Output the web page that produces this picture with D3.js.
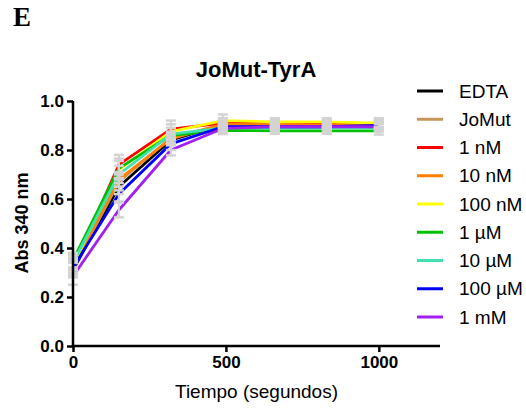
<!DOCTYPE html>
<html>
<head>
<meta charset="utf-8">
<script src="https://cdn.jsdelivr.net/npm/d3@7"></script>
<style>
  html, body { margin: 0; padding: 0; background: #fff; }
  svg { display: block; }
  text { font-family: "Liberation Sans", Arial, Helvetica, sans-serif; fill: #000; }
</style>
</head>
<body>
<svg id="chart" width="526" height="408"></svg>
<script>
// Time points (s)
const times = [0, 150, 320, 490, 660, 830, 1000];

// Series labels and colours
const seriesNames = ["EDTA", "JoMut", "1 nM", "10 nM", "100 nM", "1 \u00B5M", "10 \u00B5M", "100 \u00B5M", "1 mM"];
const seriesColors = ["#000000", "#c8955a", "#ff0000", "#ff8000", "#ffff00", "#00c000", "#40e0b0", "#0000ff", "#a020f0"];

// Absorbance at 340 nm, one array per series
const edta     = [0.310, 0.650, 0.840, 0.905, 0.905, 0.905, 0.905];
const jomut    = [0.315, 0.670, 0.850, 0.905, 0.905, 0.905, 0.905];
const nM1      = [0.320, 0.740, 0.885, 0.910, 0.910, 0.907, 0.905];
const nM10     = [0.320, 0.680, 0.845, 0.905, 0.905, 0.900, 0.905];
const nM100    = [0.330, 0.720, 0.875, 0.920, 0.915, 0.915, 0.910];
const uM1      = [0.350, 0.725, 0.860, 0.880, 0.878, 0.878, 0.878];
const uM10     = [0.340, 0.700, 0.865, 0.890, 0.890, 0.890, 0.890];
const uM100    = [0.320, 0.620, 0.825, 0.895, 0.895, 0.895, 0.900];
const mM1      = [0.285, 0.555, 0.800, 0.888, 0.895, 0.895, 0.895];

// Standard deviations, one array per series
const edtaSd   = [0.030, 0.030, 0.020, 0.015, 0.012, 0.012, 0.015];
const jomutSd  = [0.030, 0.035, 0.025, 0.015, 0.012, 0.012, 0.015];
const nM1Sd    = [0.030, 0.040, 0.035, 0.020, 0.015, 0.015, 0.020];
const nM10Sd   = [0.030, 0.030, 0.025, 0.015, 0.012, 0.012, 0.015];
const nM100Sd  = [0.030, 0.035, 0.030, 0.025, 0.015, 0.015, 0.020];
const uM1Sd    = [0.030, 0.040, 0.030, 0.015, 0.012, 0.012, 0.015];
const uM10Sd   = [0.030, 0.035, 0.025, 0.015, 0.012, 0.012, 0.015];
const uM100Sd  = [0.030, 0.030, 0.025, 0.015, 0.012, 0.012, 0.015];
const mM1Sd    = [0.035, 0.030, 0.022, 0.015, 0.012, 0.012, 0.015];

// Axis ticks
const xTicks = [0, 500, 1000];
const yTicks = [0.0, 0.2, 0.4, 0.6, 0.8, 1.0];

const values = [edta, jomut, nM1, nM10, nM100, uM1, uM10, uM100, mM1];
const errors = [edtaSd, jomutSd, nM1Sd, nM10Sd, nM100Sd, uM1Sd, uM10Sd, uM100Sd, mM1Sd];

const series = seriesNames.map((name, i) => ({
  name,
  color: seriesColors[i],
  points: times.map((t, j) => ({ t, v: values[i][j], sd: errors[i][j] }))
}));

const svg = d3.select("#chart");

const x = d3.scaleLinear().domain([0, 1200]).range([73, 440]);
const y = d3.scaleLinear().domain([0, 1]).range([346, 101]);

// Panel letter
svg.append("text")
  .attr("x", 13).attr("y", 26)
  .style("font-family", "'Liberation Serif', 'Times New Roman', serif")
  .style("font-weight", "bold").style("font-size", "27px")
  .text("E");

// Title
svg.append("text")
  .attr("x", 256).attr("y", 77)
  .attr("text-anchor", "middle")
  .style("font-weight", "bold").style("font-size", "22px")
  .text("JoMut-TyrA");

// Series lines
const line = d3.line().x(d => x(d.t)).y(d => y(d.v));
svg.append("g").selectAll("path")
  .data(series)
  .join("path")
  .attr("d", d => line(d.points))
  .attr("fill", "none")
  .attr("stroke", d => d.color)
  .attr("stroke-width", 2.8)
  .attr("stroke-linejoin", "round");

// Error bars (light grey, above the lines)
const errG = svg.append("g").attr("stroke", "#d3d3d3").attr("fill", "none");
series.forEach(s => {
  s.points.forEach(p => {
    const cx = x(p.t), y1 = y(p.v + p.sd), y0 = y(p.v - p.sd);
    errG.append("line").attr("x1", cx).attr("x2", cx).attr("y1", y1).attr("y2", y0).attr("stroke-width", 2);
    errG.append("line").attr("x1", cx - 5).attr("x2", cx + 5).attr("y1", y1).attr("y2", y1).attr("stroke-width", 2.5);
    errG.append("line").attr("x1", cx - 5).attr("x2", cx + 5).attr("y1", y0).attr("y2", y0).attr("stroke-width", 2.5);
  });
});

// Axes
const xAxis = d3.axisBottom(x).tickValues(xTicks).tickSize(6).tickPadding(4).tickFormat(d3.format("d"));
const yAxis = d3.axisLeft(y).tickValues(yTicks).tickSize(6).tickPadding(3).tickFormat(d3.format(".1f"));

const gx = svg.append("g").attr("transform", "translate(0,346)").call(xAxis);
const gy = svg.append("g").attr("transform", "translate(73,0)").call(yAxis);

[gx, gy].forEach(g => {
  g.select(".domain").attr("stroke", "#000").attr("stroke-width", 2.5);
  g.selectAll(".tick line").attr("stroke", "#000").attr("stroke-width", 2.5);
  g.selectAll(".tick text")
    .style("font-family", "'Liberation Sans', Arial, sans-serif")
    .style("font-weight", "bold").style("font-size", "17px").attr("fill", "#000");
});
gx.select(".domain").attr("d", "M73,0H440");
gy.select(".domain").attr("d", "M0,101V346");

// Axis titles
svg.append("text")
  .attr("transform", "translate(28,223) rotate(-90)")
  .attr("text-anchor", "middle")
  .style("font-weight", "bold").style("font-size", "18px")
  .text("Abs 340 nm");

svg.append("text")
  .attr("x", 256.5).attr("y", 398)
  .attr("text-anchor", "middle")
  .style("font-size", "19px")
  .text("Tiempo (segundos)");

// Legend
const legend = svg.append("g").selectAll("g")
  .data(series)
  .join("g")
  .attr("transform", (d, i) => `translate(0,${91 + i * 28.25})`);
legend.append("line")
  .attr("x1", 417).attr("x2", 443)
  .attr("stroke", d => d.color).attr("stroke-width", 3);
legend.append("text")
  .attr("x", 459).attr("y", 0).attr("dy", "0.35em")
  .style("font-size", "19px")
  .text(d => d.name);
</script>
</body>
</html>
